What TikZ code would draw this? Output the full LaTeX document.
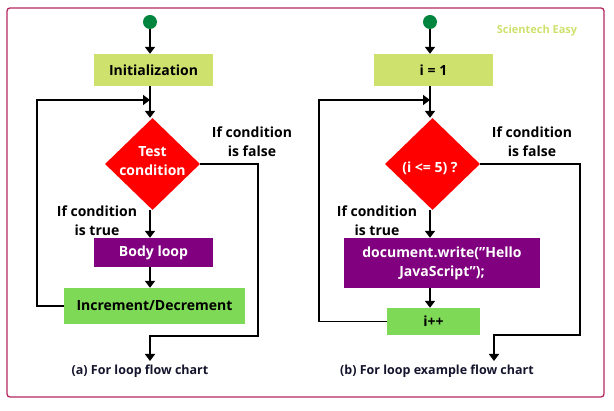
\documentclass[tikz,border=0pt]{standalone}
\usepackage{fontspec}
\setmainfont{Open Sans}
\usetikzlibrary{shapes.geometric, arrows.meta}
\definecolor{framecol}{RGB}{180,40,95}
\definecolor{startcol}{RGB}{0,133,62}
\definecolor{initcol}{RGB}{206,225,108}
\definecolor{bodycol}{RGB}{128,0,128}
\definecolor{stepcol}{RGB}{126,217,87}
\definecolor{capcol}{RGB}{20,20,45}

\begin{document}
\begin{tikzpicture}[
        x=1pt, y=-1pt, % пиксельная сетка, ось y вниз
        arr/.style = {line width=1.8pt, -{Triangle[length=7pt, width=10pt]}},
        start/.style = {circle, fill=startcol, minimum size=14pt, inner sep=0pt},
        block/.style = {rectangle, inner sep=0pt, align=center, font=\fontsize{14}{19}\selectfont\bfseries}, % Стиль блоков
        cond/.style = {diamond, fill=red, inner sep=0pt, minimum width=95pt, minimum height=92pt},
        condtxt/.style = {align=center, text=white, font=\fontsize{14}{19}\selectfont\bfseries},
        note/.style = {align=center, font=\fontsize{14}{19}\selectfont\bfseries},
        caption/.style = {text=capcol, font=\fontsize{12.5}{14}\selectfont\bfseries},
    ]
    \useasboundingbox (0,0) rectangle (614,411);
    \draw[framecol, line width=1.3pt, rounded corners=3pt] (7,8) rectangle (604,397);

    % (a) блок-схема цикла for
    \node[start] (startA) at (150,22) {};
    \node[block, fill=initcol, minimum width=119pt, minimum height=32pt] (initA) at (153.5,70) {Initialization};
    \node[cond] (testA) at (152.5,164) {};
    \node[condtxt] (testAtxt) at (152.5,161) {Test\\condition};
    \node[block, fill=bodycol, text=white, minimum width=119pt, minimum height=29pt] (bodyA) at (153.5,252.5) {Body loop};
    \node[block, fill=stepcol, minimum width=181pt, minimum height=36pt] (incA) at (154.5,306) {Increment/Decrement};
    \node[note] (falseA) at (252,142) {If condition\\is false};
    \node[note] (trueA) at (97,221) {If condition\\is true};
    \node[caption] (capA) at (140,371) {(a) For loop flow chart};
    \coordinate (joinA) at (150,100);
    \coordinate (exitA) at (150,361);

    \draw[arr] (startA) -- (startA |- initA.north);
    \draw[arr] (initA.south -| startA) -- (startA |- testA.north);
    \draw[arr] (testA.south -| startA) -- (startA |- bodyA.north);
    \draw[arr] (bodyA.south -| startA) -- (startA |- incA.north);
    \draw[arr] (incA.west) -- ++(-27,0) |- (joinA);
    \draw[arr] (testA.east) -| (258,336) -| (exitA);

    % (b) пример цикла for
    \node[start] (startB) at (430,22) {};
    \node[block, fill=initcol, minimum width=119pt, minimum height=32pt] (initB) at (433.5,70) {i = 1};
    \node[cond] (testB) at (432.5,164) {};
    \node[condtxt] (testBtxt) at (430,168) {(i <= 5) ?};
    \node[block, fill=bodycol, text=white, minimum width=196pt, minimum height=50pt] (bodyB) at (442,263) {document.write(\symbol{34}Hello\\JavaScript\symbol{34});};
    \node[block, fill=stepcol, minimum width=93pt, minimum height=27pt] (incB) at (433.5,321.5) {i++};
    \node[note] (falseB) at (532,142) {If condition\\is false};
    \node[note] (trueB) at (377,221) {If condition\\is true};
    \node[caption] (capB) at (437,371) {(b) For loop example flow chart};
    \node[text=initcol, font=\fontsize{11}{13}\selectfont\bfseries] (brand) at (537,31) {Scientech Easy};
    \coordinate (joinB) at (430,100);
    \coordinate (exitB) at (494,361);

    \draw[arr] (startB) -- (startB |- initB.north);
    \draw[arr] (initB.south -| startB) -- (startB |- testB.north);
    \draw[arr] (testB.south -| startB) -- (startB |- bodyB.north);
    \draw[arr] (bodyB.south -| startB) -- (startB |- incB.north);
    \draw[arr] (incB.west) -- ++(-68,0) |- (joinB);
    \draw[arr] (testB.east) -| (580,335) -| (exitB);
\end{tikzpicture}
\end{document}
